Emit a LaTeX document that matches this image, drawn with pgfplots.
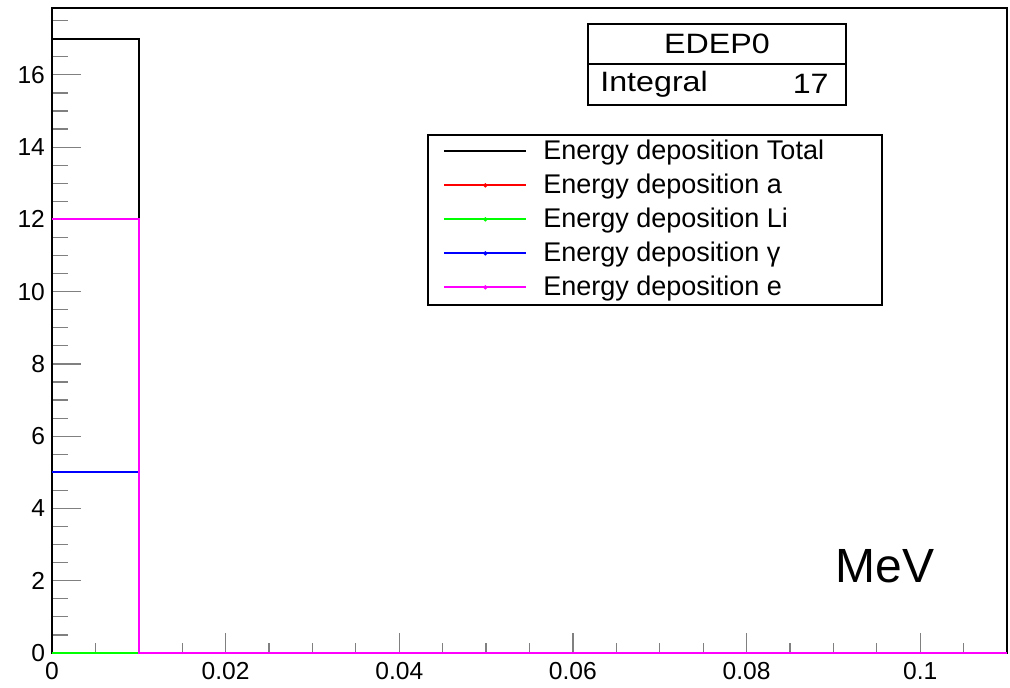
\documentclass[border=0pt]{standalone}
\usepackage{fontspec}
\setmainfont{Liberation Sans}
\usepackage{graphicx}
\usepackage{pgfplots}
\pgfplotsset{compat=1.18}
\definecolor{rootred}{rgb}{1,0,0}
\definecolor{rootgreen}{rgb}{0,1,0}
\definecolor{rootblue}{rgb}{0,0,1}
\definecolor{rootmag}{rgb}{1,0,1}
\pgfplotsset{rootbase/.style={scale only axis, width=477.5pt, height=322.5pt,
  xmin=0, xmax=0.11, ymin=0, ymax=17.85,
  axis line style={line width=0.6pt},
  tick align=inside, xtick pos=bottom, ytick pos=left,
  tick style={line width=0.6pt},
  /pgf/number format/assume math mode=true,
  tick label style={font=\fontsize{12.3}{14}\selectfont}}}
\begin{document}
\begin{tikzpicture}
% y ticks only
\begin{axis}[rootbase, name=ay,
  xtick=\empty,
  ytick={0,2,4,6,8,10,12,14,16},
  minor ytick={0.5,1,1.5,2.5,3,3.5,4.5,5,5.5,6.5,7,7.5,8.5,9,9.5,10.5,11,11.5,12.5,13,13.5,14.5,15,15.5,16.5,17,17.5},
  major tick length=14.5pt, minor tick length=8pt]
\end{axis}
% main axis with x ticks and data
\begin{axis}[rootbase, name=ax,
  clip=false,
  scaled x ticks=false,
  ytick=\empty,
  xtick={0,0.02,0.04,0.06,0.08,0.1},
  xticklabels={0,0.02,0.04,0.06,0.08,0.1},
  minor xtick={0.005,0.01,0.015,0.025,0.03,0.035,0.045,0.05,0.055,0.065,0.07,0.075,0.085,0.09,0.095,0.105},
  major tick length=10pt, minor tick length=5pt,
  xticklabel style={yshift=-1pt},
  legend style={at={(rel axis cs:0.4094,0.7992)}, anchor=north west, draw=none, fill=none,
    inner sep=0pt, row sep=3.5pt, column sep=8pt,
    nodes={inner sep=0pt, text height=11pt, text depth=2.5pt, font=\fontsize{13.5}{16}\selectfont}},
  legend cell align=left,
]
\addplot[draw=black, line width=1pt, const plot mark left, no marks,
  legend image code/.code={\draw[draw=black, line width=1pt] (0pt,0pt) -- (41pt,0pt);}]
  coordinates {(0,17) (0.01,0) (0.02,0) (0.03,0) (0.04,0) (0.05,0) (0.06,0) (0.07,0) (0.08,0) (0.09,0) (0.10,0) (0.11,0)};
\addlegendentry{Energy deposition Total}
\addplot[draw=rootred, line width=1pt, const plot mark left, no marks,
  legend image code/.code={\draw[draw=rootred, line width=1pt] (0pt,0pt) -- (41pt,0pt); \fill[fill=black] (20.5pt,0pt) circle[radius=0.45pt];}]
  coordinates {(0,0) (0.01,0) (0.02,0) (0.03,0) (0.04,0) (0.05,0) (0.06,0) (0.07,0) (0.08,0) (0.09,0) (0.10,0) (0.11,0)};
\addlegendentry{Energy deposition a}
\addplot[draw=rootgreen, line width=1pt, const plot mark left, no marks,
  legend image code/.code={\draw[draw=rootgreen, line width=1pt] (0pt,0pt) -- (41pt,0pt); \fill[fill=black] (20.5pt,0pt) circle[radius=0.45pt];}]
  coordinates {(0,0) (0.01,0) (0.02,0) (0.03,0) (0.04,0) (0.05,0) (0.06,0) (0.07,0) (0.08,0) (0.09,0) (0.10,0) (0.11,0)};
\addlegendentry{Energy deposition Li}
\addplot[draw=rootblue, line width=1pt, const plot mark left, no marks,
  legend image code/.code={\draw[draw=rootblue, line width=1pt] (0pt,0pt) -- (41pt,0pt); \fill[fill=black] (20.5pt,0pt) circle[radius=0.45pt];}]
  coordinates {(0,5) (0.01,0) (0.02,0) (0.03,0) (0.04,0) (0.05,0) (0.06,0) (0.07,0) (0.08,0) (0.09,0) (0.10,0) (0.11,0)};
\addlegendentry{Energy deposition γ}
\addplot[draw=rootmag, line width=1pt, const plot mark left, no marks,
  legend image code/.code={\draw[draw=rootmag, line width=1pt] (0pt,0pt) -- (41pt,0pt); \fill[fill=black] (20.5pt,0pt) circle[radius=0.45pt];}]
  coordinates {(0,12) (0.01,0) (0.02,0) (0.03,0) (0.04,0) (0.05,0) (0.06,0) (0.07,0) (0.08,0) (0.09,0) (0.10,0) (0.11,0)};
\addlegendentry{Energy deposition e}
% legend frame
\draw[line width=0.6pt, fill=white] (rel axis cs:0.3937,0.5395) rectangle (rel axis cs:0.8691,0.8031);
% stats box
\draw[line width=0.6pt, fill=white] (rel axis cs:0.5613,0.8496) rectangle (rel axis cs:0.8314,0.9752);
\draw[line width=0.6pt] (rel axis cs:0.5613,0.9132) -- (rel axis cs:0.8314,0.9132);
\node[font=\fontsize{14}{16}\selectfont, inner sep=0pt] at (rel axis cs:0.6963,0.9442) {\scalebox{1.15}[1]{EDEP0}};
\node[font=\fontsize{14}{16}\selectfont, inner sep=0pt, anchor=west] at (rel axis cs:0.5738,0.8822) {\scalebox{1.15}[1]{Integral}};
\node[font=\fontsize{14}{16}\selectfont, inner sep=0pt, anchor=east] at (rel axis cs:0.8136,0.8822) {\scalebox{1.15}[1]{17}};
\node[font=\fontsize{24}{28}\selectfont, inner sep=0pt] at (rel axis cs:0.8723,0.1349) {MeV};
\end{axis}
\pgfresetboundingbox
\path[use as bounding box] ([xshift=-26pt,yshift=-17pt]ax.south west) rectangle ([xshift=1.5pt,yshift=4pt]ax.north east);
\end{tikzpicture}
\end{document}
